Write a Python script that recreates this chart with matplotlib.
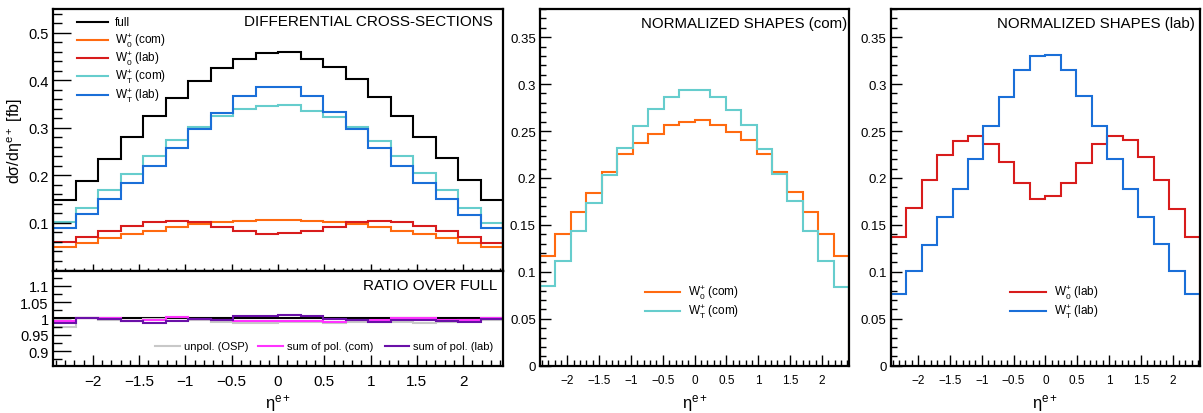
import numpy as np
import matplotlib
matplotlib.use("Agg")
from matplotlib import pyplot as plt
import matplotlib.ticker as mticker

plt.rcParams["font.family"] = ["Liberation Sans", "DejaVu Sans"]
plt.rcParams["mathtext.fontset"] = "custom"
plt.rcParams["mathtext.rm"] = "Liberation Sans"
plt.rcParams["mathtext.it"] = "Liberation Sans:italic"

# ---- datos (20 bins en eta) ----
eta_max = 2.43
n_bins = 20

full = [0.148, 0.188, 0.234, 0.281, 0.324, 0.363, 0.398, 0.426, 0.445, 0.457,
        0.459, 0.445, 0.428, 0.402, 0.365, 0.324, 0.281, 0.237, 0.190, 0.148]
w0_com = [0.049, 0.057, 0.068, 0.076, 0.084, 0.092, 0.098, 0.101, 0.104, 0.106,
          0.106, 0.104, 0.101, 0.098, 0.092, 0.084, 0.076, 0.068, 0.057, 0.049]
w0_lab = [0.059, 0.071, 0.084, 0.094, 0.101, 0.104, 0.101, 0.092, 0.084, 0.077,
          0.078, 0.084, 0.092, 0.101, 0.104, 0.101, 0.094, 0.084, 0.071, 0.058]
wt_com = [0.101, 0.132, 0.169, 0.204, 0.241, 0.274, 0.302, 0.325, 0.339, 0.346,
          0.348, 0.336, 0.323, 0.302, 0.273, 0.241, 0.206, 0.169, 0.131, 0.100]
wt_lab = [0.089, 0.118, 0.150, 0.183, 0.220, 0.257, 0.297, 0.332, 0.366, 0.385,
          0.386, 0.366, 0.334, 0.298, 0.257, 0.220, 0.185, 0.150, 0.117, 0.089]

ratio_osp = [0.974, 1.000, 0.995, 0.993, 0.998, 1.003, 0.995, 0.990, 0.985, 0.987,
             0.988, 0.990, 0.985, 0.990, 0.990, 0.990, 0.985, 0.990, 0.995, 0.995]
ratio_com = [0.992, 1.000, 1.002, 0.992, 0.995, 1.005, 0.998, 0.995, 0.993, 0.992,
             0.992, 0.993, 0.990, 0.995, 0.995, 1.002, 1.002, 0.995, 0.995, 1.002]
ratio_lab = [0.985, 1.000, 0.997, 0.993, 0.985, 0.993, 0.997, 0.995, 1.007, 1.006,
             1.010, 1.007, 0.998, 0.995, 0.990, 0.995, 0.995, 0.993, 0.990, 0.998]

norm_w0_com = [0.117, 0.140, 0.164, 0.184, 0.206, 0.225, 0.237, 0.247, 0.256, 0.260,
               0.262, 0.256, 0.249, 0.240, 0.225, 0.206, 0.185, 0.164, 0.140, 0.117]
norm_wt_com = [0.085, 0.112, 0.143, 0.173, 0.203, 0.232, 0.255, 0.273, 0.286, 0.294,
               0.294, 0.286, 0.272, 0.256, 0.231, 0.204, 0.175, 0.143, 0.112, 0.084]
norm_w0_lab = [0.137, 0.168, 0.198, 0.224, 0.239, 0.245, 0.236, 0.217, 0.195, 0.178,
               0.181, 0.195, 0.216, 0.236, 0.245, 0.240, 0.222, 0.198, 0.167, 0.137]
norm_wt_lab = [0.076, 0.101, 0.129, 0.158, 0.188, 0.220, 0.255, 0.286, 0.315, 0.330,
               0.331, 0.315, 0.287, 0.255, 0.220, 0.188, 0.158, 0.130, 0.101, 0.076]

edges = np.linspace(-eta_max, eta_max, n_bins + 1)

c_full = "black"
c_w0com = "#ff6a10"
c_w0lab = "#d81c1c"
c_wtcom = "#66cdcd"
c_wtlab = "#1a6fd8"
c_osp = "#c8c8c8"
c_sumcom = "#ff33ff"
c_sumlab = "#6a10a8"

W0 = r"$\mathregular{W^{+}_{0}}$"
WT = r"$\mathregular{W^{+}_{T}}$"


def fmt_num(v, pos):
    return ("%g" % v).replace("-", "\u2212")


def estilo_root(ax, xlen=8, ylen=8, xsize=8.5, ysize=9.5):
    for s in ax.spines.values():
        s.set_linewidth(1.6)
    ax.set_xlim(-eta_max, eta_max)
    ax.xaxis.set_major_locator(mticker.MultipleLocator(0.5))
    ax.xaxis.set_minor_locator(mticker.MultipleLocator(0.1))
    ax.xaxis.set_major_formatter(mticker.FuncFormatter(fmt_num))
    ax.yaxis.set_major_formatter(mticker.FuncFormatter(fmt_num))
    ax.tick_params(axis="x", which="major", direction="in", length=xlen, width=1,
                   labelsize=xsize, top=False, pad=6)
    ax.tick_params(axis="x", which="minor", direction="in", length=xlen / 2, width=1, top=False)
    ax.tick_params(axis="y", which="major", direction="in", length=ylen, width=1,
                   labelsize=ysize, right=False, pad=3)
    ax.tick_params(axis="y", which="minor", direction="in", length=ylen / 2, width=1, right=False)


def leyenda(ax, entradas, x0, x1, xt, ys, size):
    for (lab, col), y in zip(entradas, ys):
        ax.plot([x0, x1], [y, y], color=col, lw=1.5, transform=ax.transAxes, clip_on=False)
        ax.text(xt, y, lab, transform=ax.transAxes, ha="left", va="center", fontsize=size)


fig = plt.figure(figsize=(12.03, 4.14), dpi=100)

# ---- panel izquierdo: secciones eficaces ----
ax1 = fig.add_axes([0.04406, 0.3442, 0.3741, 0.6316])
ax2 = fig.add_axes([0.04406, 0.1143, 0.3741, 0.2299])

ax1.stairs(wt_com, edges, color=c_wtcom, lw=1.5)
ax1.stairs(wt_lab, edges, color=c_wtlab, lw=1.5)
ax1.stairs(w0_com, edges, color=c_w0com, lw=1.5)
ax1.stairs(w0_lab, edges, color=c_w0lab, lw=1.5)
ax1.stairs(full, edges, color=c_full, lw=1.5)
estilo_root(ax1, xlen=5, ylen=13, ysize=10.5)
ax1.set_ylim(0, 0.55)
ax1.yaxis.set_major_locator(mticker.FixedLocator([0.1, 0.2, 0.3, 0.4, 0.5]))
ax1.yaxis.set_minor_locator(mticker.MultipleLocator(0.02))
ax1.tick_params(axis="x", labelbottom=False)
ax1.text(0.978, 0.953, "DIFFERENTIAL CROSS-SECTIONS", transform=ax1.transAxes,
         ha="right", va="center", fontsize=11)
leyenda(ax1, [("full", c_full), (W0 + " (com)", c_w0com), (W0 + " (lab)", c_w0lab),
              (WT + " (com)", c_wtcom), (WT + " (lab)", c_wtlab)],
        0.053, 0.122, 0.138, [0.951, 0.881, 0.811, 0.742, 0.671], 8.5)

ax2.stairs(np.ones(n_bins), edges, color=c_full, lw=1.5, baseline=None)
ax2.stairs(ratio_osp, edges, color=c_osp, lw=1.5, baseline=None)
ax2.stairs(ratio_com, edges, color=c_sumcom, lw=1.5, baseline=None)
ax2.stairs(ratio_lab, edges, color=c_sumlab, lw=1.5, baseline=None)
estilo_root(ax2, xlen=8, ylen=13, xsize=11, ysize=10.5)
ax2.set_ylim(0.855, 1.147)
ax2.yaxis.set_major_locator(mticker.FixedLocator([0.9, 0.95, 1.0, 1.05, 1.1]))
ax2.yaxis.set_minor_locator(mticker.MultipleLocator(0.025))
ax2.text(0.987, 0.848, "RATIO OVER FULL", transform=ax2.transAxes,
         ha="right", va="center", fontsize=11)
for (lab, col), (x0, x1, xt) in zip(
        [("unpol. (OSP)", c_osp), ("sum of pol. (com)", c_sumcom), ("sum of pol. (lab)", c_sumlab)],
        [(0.227, 0.282, 0.291), (0.456, 0.511, 0.520), (0.738, 0.791, 0.800)]):
    leyenda(ax2, [(lab, col)], x0, x1, xt, [0.207], 8)
ax2.set_xlabel(r"η$^{\mathregular{e+}}$", fontsize=12)
ax2.xaxis.set_label_coords(0.5, -0.276)
ax2.xaxis.label.set_va("top")

fig.text(15 / 1203, 1 - 141.5 / 414, r"dσ/dη$^{\mathregular{e+}}$ [fb]", rotation=90,
         ha="center", va="center", fontsize=11.5)

# ---- paneles de formas normalizadas ----
paneles = [
    (0.4489, "NORMALIZED SHAPES (com)", norm_w0_com, norm_wt_com, c_w0com, c_wtcom, "com",
     0.992, (0.339, 0.453, 0.478)),
    (0.7404, "NORMALIZED SHAPES (lab)", norm_w0_lab, norm_wt_lab, c_w0lab, c_wtlab, "lab",
     0.984, (0.386, 0.502, 0.528)),
]
for x0, titulo, h0, ht, col0, colt, marco, xtit, (lx0, lx1, lxt) in paneles:
    ax = fig.add_axes([x0, 0.1143, 0.2571, 0.8615])
    ax.stairs(h0, edges, color=col0, lw=1.5)
    ax.stairs(ht, edges, color=colt, lw=1.5)
    estilo_root(ax)
    ax.set_ylim(0, 0.38)
    ax.yaxis.set_major_locator(mticker.FixedLocator([0, 0.05, 0.1, 0.15, 0.2, 0.25, 0.3, 0.35]))
    ax.yaxis.set_minor_locator(mticker.MultipleLocator(0.01))
    ax.text(xtit, 0.962, titulo, transform=ax.transAxes, ha="right", va="center", fontsize=10.8)
    leyenda(ax, [(W0 + " (" + marco + ")", col0), (WT + " (" + marco + ")", colt)],
            lx0, lx1, lxt, [0.207, 0.153], 8.5)
    ax.set_xlabel(r"η$^{\mathregular{e+}}$", fontsize=12)
    ax.xaxis.set_label_coords(0.5, -0.074)
    ax.xaxis.label.set_va("top")

plt.savefig("out.png", dpi=100)
